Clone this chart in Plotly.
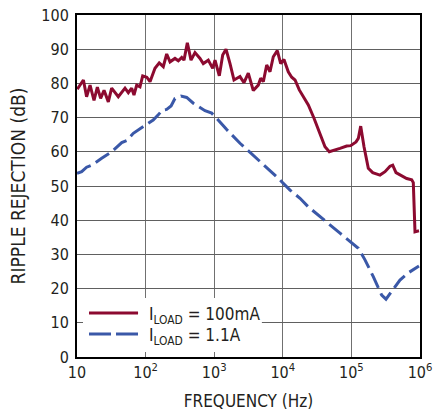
import plotly.graph_objects as go

# 100mA load
freq_100ma = [10.1, 12.4, 13.8, 15.5, 17.7, 19.8, 22.1, 24.8, 28.6, 32.0,
              40.0, 50.1, 56.0, 62.7, 67.7, 74.1, 82.8, 90.7, 104, 116,
              137, 158, 181, 203, 227, 268, 300, 336, 363, 406,
              459, 525, 621, 693, 820, 951, 1028, 1187, 1330, 1486,
              1700, 1944, 2377, 2718, 3141, 3715, 4393, 4762, 5198, 5826,
              6506, 7270, 8318, 9316, 10400, 12020, 13480, 15070, 17390, 21080,
              23550, 28510, 34850, 41210, 47630, 54470, 68190, 85350, 97700, 116700,
              126100, 136700, 152700, 176400, 204400, 261100, 309000, 365400, 400000, 446900,
              540900, 639900, 756900, 798700, 845300, 966400]
rej_100ma = [78.3, 81.0, 76.1, 79.5, 75.0, 78.9, 75.6, 78.0, 74.6, 78.6,
             76.1, 78.6, 77.3, 78.6, 76.6, 79.5, 79.0, 82.2, 81.8, 80.5,
             84.4, 86.0, 84.9, 88.6, 86.3, 87.3, 86.6, 87.6, 86.8, 91.9,
             86.8, 89.0, 87.3, 85.8, 86.8, 84.4, 86.8, 82.2, 88.3, 90.0,
             85.8, 81.0, 82.0, 80.2, 83.0, 77.9, 79.5, 81.5, 80.5, 85.4,
             83.4, 87.8, 89.6, 85.8, 87.0, 83.4, 81.8, 81.0, 78.1, 75.1,
             73.7, 69.8, 65.4, 61.5, 60.0, 60.3, 61.0, 61.7, 61.8, 62.9,
             63.9, 67.5, 61.5, 55.2, 53.9, 53.2, 54.2, 55.8, 56.1, 53.9,
             52.9, 52.2, 51.8, 51.0, 36.6, 36.9]

# 1.1A load
freq_1a = [10, 11.7, 13.8, 16.4, 22.9, 32.0, 44.9, 53.0, 66.2, 92.6,
           129, 153, 175, 203, 235, 268, 328, 397, 496, 734,
           920, 1088, 1521, 2377, 4165, 8150, 12740, 17820, 23550, 34850,
           68190, 126100, 157800, 208500, 276400, 319300, 386300, 510500, 674500, 845300,
           966400]
rej_1a = [53.7, 54.2, 55.5, 56.1, 58.1, 60.0, 62.7, 63.3, 65.4, 67.3,
          69.3, 70.8, 72.2, 72.4, 73.4, 75.6, 76.3, 75.9, 74.2, 72.0,
          71.3, 69.8, 66.5, 62.5, 58.1, 52.7, 48.8, 46.4, 43.9, 41.0,
          36.2, 31.8, 28.4, 23.5, 18.1, 16.9, 19.1, 22.5, 24.6, 25.9,
          26.6]

x_tickvals = [10, 100, 1000, 10000, 100000, 1000000]
x_ticktext = ["10", "10<sup>2</sup>", "10<sup>3</sup>", "10<sup>4</sup>",
              "10<sup>5</sup>", "10<sup>6</sup>"]

series_names = ["I<sub>LOAD</sub> = 100mA", "I<sub>LOAD</sub> = 1.1A"]

RED = "#8c0a30"
BLUE = "#3a58a8"
TEXT = "#231f20"
FONT = "DejaVu Sans Condensed, Liberation Sans Narrow, Liberation Sans, sans-serif"

fig = go.Figure()

fig.add_trace(go.Scatter(
    x=freq_100ma,
    y=rej_100ma,
    mode="lines",
    name=series_names[0],
    line=dict(color=RED, width=3)
))

fig.add_trace(go.Scatter(
    x=freq_1a,
    y=rej_1a,
    mode="lines",
    name=series_names[1],
    line=dict(color=BLUE, width=3, dash="16px,6px")
))

fig.update_xaxes(
    type="log",
    range=[1, 6],
    tickvals=x_tickvals,
    ticktext=x_ticktext,
    tickfont=dict(size=16),
    showgrid=True,
    gridcolor="#707070",
    gridwidth=1,
    showline=True,
    linecolor="black",
    linewidth=2,
    mirror=True,
    ticks="",
    automargin=False,
    title=dict(text="FREQUENCY (Hz)", standoff=14, font=dict(size=17)),
    zeroline=False
)

fig.update_yaxes(
    range=[0, 100],
    tickvals=list(range(0, 101, 10)),
    tickfont=dict(size=16),
    ticklabelstandoff=3,
    showgrid=True,
    gridcolor="#606060",
    gridwidth=1,
    showline=True,
    linecolor="black",
    linewidth=2,
    mirror=True,
    ticks="",
    automargin=False,
    title=dict(text="RIPPLE REJECTION (dB)", standoff=11, font=dict(size=19)),
    zeroline=False
)

# legend drawn by hand so the sample lines have the right length
fig.add_shape(
    type="rect", xref="x domain", yref="y domain",
    x0=0.0175, x1=0.539, y0=0.0146, y1=0.1725,
    fillcolor="white", line=dict(width=0), layer="above"
)
legend_rows = [(0.1287, RED, "solid"), (0.0673, BLUE, "22px,5px")]
for (ly, color, dash), label in zip(legend_rows, series_names):
    fig.add_shape(
        type="line", xref="x domain", yref="y domain",
        x0=0.035, x1=0.178, y0=ly, y1=ly,
        line=dict(color=color, width=3, dash=dash)
    )
    fig.add_annotation(
        x=0.204, y=ly - 0.006, xref="x domain", yref="y domain",
        text=label, showarrow=False,
        xanchor="left", yanchor="middle",
        font=dict(size=17, color=TEXT)
    )

fig.update_layout(
    width=433,
    height=412,
    margin=dict(l=77, r=13, t=15, b=55),
    paper_bgcolor="white",
    plot_bgcolor="white",
    font=dict(family=FONT, size=16, color=TEXT),
    showlegend=False
)

fig.write_html(
    "out.html",
    config={"displayModeBar": False},
    post_script="document.body.style.margin='0';"
)
